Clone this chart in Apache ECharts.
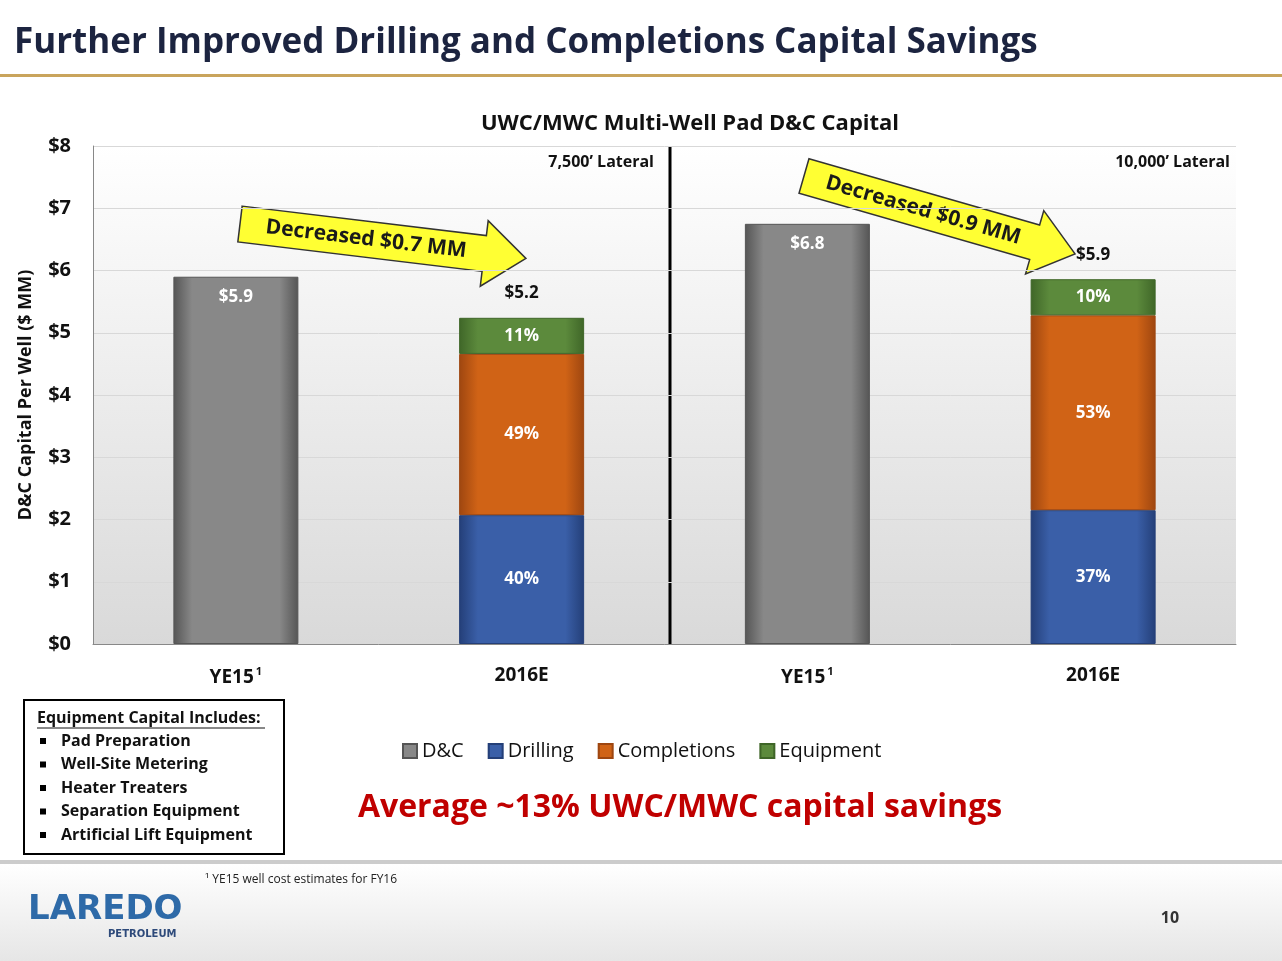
<!DOCTYPE html>
<html><head><meta charset="utf-8">
<script src="https://cdn.jsdelivr.net/npm/echarts@6/dist/echarts.min.js"></script>
<style>html,body{margin:0;padding:0;background:#fff}#main{width:1282px;height:961px}</style>
</head><body><div id="main"></div>
<script>
var categories = ['YE15', '2016E', 'YE15 ', '2016E '];
var dcValues = [5.9, null, 6.75, null];
var drillingValues = [null, 2.07, null, 2.15];
var completionValues = [null, 2.59, null, 3.13];
var equipmentValues = [null, 0.58, null, 0.58];
var dcLabels = ['$5.9', '', '$6.8', ''];
var drillingPct = ['', '40%', '', '37%'];
var completionPct = ['', '49%', '', '53%'];
var equipmentPct = ['', '11%', '', '10%'];
var totalLabels = ['', '$5.2', '', '$5.9'];
var yTicks = ['$0', '$1', '$2', '$3', '$4', '$5', '$6', '$7', '$8'];
var equipmentItems = ['Pad Preparation', 'Well-Site Metering', 'Heater Treaters', 'Separation Equipment', 'Artificial Lift Equipment'];

var font = 'Open Sans';
var myChart = echarts.init(document.getElementById('main'));

function grad(light, dark) {
  return new echarts.graphic.LinearGradient(0, 0, 1, 0, [
    {offset: 0, color: dark}, {offset: 0.15, color: light}, {offset: 0.85, color: light}, {offset: 1, color: dark}
  ]);
}
function pctLabel(arr) {
  return {show: true, position: 'inside', color: '#fff', fontWeight: 'bold', fontSize: 17, fontFamily: font,
    formatter: function (p) { return arr[p.dataIndex]; }};
}
function arrow(x, y, rot, len, txt) {
  var h = 36, hh = 66, hl = 42;
  return {type: 'group', x: x, y: y, rotation: rot, children: [
    {type: 'polygon', shape: {points: [[0, -h/2], [len-hl, -h/2], [len-hl, -hh/2], [len, 0], [len-hl, hh/2], [len-hl, h/2], [0, h/2]]},
      style: {fill: '#ffff33', stroke: '#333', lineWidth: 1.5}},
    {type: 'text', x: (len-hl)/2 + 4, y: 0, style: {text: txt, fill: '#1a1a1a', font: 'bold 21px "Open Sans"', align: 'center', verticalAlign: 'middle'}}
  ]};
}

var listChildren = [];
equipmentItems.forEach(function (t, i) {
  listChildren.push({type: 'rect', shape: {x: 40, y: 738 + i*23.5, width: 6, height: 6}, style: {fill: '#000'}});
  listChildren.push({type: 'text', x: 61, y: 741 + i*23.5, style: {text: t, font: 'bold 16px "Open Sans"', fill: '#111', verticalAlign: 'middle'}});
});

var option = {
  animation: false,
  backgroundColor: '#fff',
  title: {text: 'UWC/MWC Multi-Well Pad D&C Capital', left: 685, top: 108, textAlign: 'center',
    textStyle: {fontFamily: font, fontSize: 22, fontWeight: 'bold', color: '#111'}},
  legend: {top: 736, left: 397, icon: 'rect', itemWidth: 14, itemHeight: 14, itemGap: 24,
    data: ['D&C', 'Drilling', 'Completions', 'Equipment'],
    textStyle: {fontFamily: font, fontSize: 20, color: '#111'}},
  grid: {left: 93, right: 46, top: 146, bottom: 317},
  xAxis: {type: 'category', data: categories,
    axisLine: {lineStyle: {color: '#888'}}, axisTick: {show: false},
    axisLabel: {margin: 22, fontFamily: font, fontSize: 19, fontWeight: 'bold', color: '#111',
      formatter: function (v) { return v.indexOf('YE15') === 0 ? 'YE15{s|1}' : v.trim(); },
      rich: {s: {fontSize: 11, verticalAlign: 'top', padding: [0, 0, 12, 2], fontWeight: 'bold'}}}},
  yAxis: {type: 'value', min: 0, max: 8, interval: 1,
    name: 'D&C Capital Per Well ($ MM)', nameLocation: 'middle', nameGap: 58,
    nameTextStyle: {fontFamily: font, fontSize: 18, fontWeight: 'bold', color: '#111'},
    axisLine: {show: true, lineStyle: {color: '#888'}},
    axisLabel: {fontFamily: font, fontSize: 20, fontWeight: 'bold', color: '#111', margin: 22,
      formatter: function (v) { return yTicks[v]; }},
    splitLine: {lineStyle: {color: '#d8d8d8'}}},
  series: [
    {name: 'D&C', type: 'bar', stack: 's', barWidth: 125, data: dcValues,
      itemStyle: {color: grad('#888', '#555'), borderColor: '#555', borderWidth: 1},
      label: {show: true, position: 'insideTop', distance: 12, color: '#fff', fontWeight: 'bold', fontSize: 17, fontFamily: font,
        formatter: function (p) { return dcLabels[p.dataIndex]; }}},
    {name: 'Drilling', type: 'bar', stack: 's', data: drillingValues,
      itemStyle: {color: grad('#3a5fa8', '#243f78'), borderColor: '#243f78', borderWidth: 1}, label: pctLabel(drillingPct)},
    {name: 'Completions', type: 'bar', stack: 's', data: completionValues,
      itemStyle: {color: grad('#d06316', '#9e4610'), borderColor: '#9e4610', borderWidth: 1}, label: pctLabel(completionPct)},
    {name: 'Equipment', type: 'bar', stack: 's', data: equipmentValues,
      itemStyle: {color: grad('#5c8a3c', '#3f6628'), borderColor: '#3f6628', borderWidth: 1}, label: pctLabel(equipmentPct)},
    {name: 'total', type: 'bar', stack: 's', data: [null, 0.0001, null, 0.0001], itemStyle: {color: 'transparent'},
      label: {show: true, position: 'top', distance: 16, color: '#111', fontWeight: 'bold', fontSize: 17, fontFamily: font,
        formatter: function (p) { return totalLabels[p.dataIndex]; }}}
  ],
  graphic: [
    {type: 'text', left: 14, top: 26, style: {text: 'Further Improved Drilling and Completions Capital Savings', font: 'bold 35px "Open Sans"', fill: '#1c2440'}},
    {type: 'rect', shape: {x: 0, y: 74, width: 1282, height: 3}, style: {fill: '#c9a45c'}},
    {type: 'rect', z: -1, shape: {x: 93, y: 146, width: 1143, height: 498},
      style: {fill: new echarts.graphic.LinearGradient(0, 0, 0, 1, [{offset: 0, color: '#ffffff'}, {offset: 1, color: '#d9d9d9'}])}},
    {type: 'line', shape: {x1: 670, y1: 146, x2: 670, y2: 644}, style: {stroke: '#000', lineWidth: 3}},
    {type: 'text', x: 654, y: 162, style: {text: '7,500\u2019 Lateral', font: 'bold 16px "Open Sans"', fill: '#111', align: 'right', verticalAlign: 'middle'}},
    {type: 'text', x: 1230, y: 162, style: {text: '10,000\u2019 Lateral', font: 'bold 16px "Open Sans"', fill: '#111', align: 'right', verticalAlign: 'middle'}},
    arrow(240, 224, -0.12, 288, 'Decreased $0.7 MM'),
    arrow(804, 176, -0.28, 282, 'Decreased $0.9 MM'),
    {type: 'rect', shape: {x: 24, y: 700, width: 260, height: 154}, style: {fill: '#fff', stroke: '#000', lineWidth: 2}},
    {type: 'text', x: 37, y: 718, style: {text: 'Equipment Capital Includes:', font: 'bold 16px "Open Sans"', fill: '#111', verticalAlign: 'middle'}},
    {type: 'line', shape: {x1: 37, y1: 728, x2: 265, y2: 728}, style: {stroke: '#111', lineWidth: 1}},
    {type: 'group', children: listChildren},
    {type: 'text', x: 680, y: 808, style: {text: 'Average ~13% UWC/MWC capital savings', font: 'bold 32px "Open Sans"', fill: '#c00000', align: 'center', verticalAlign: 'middle'}},
    {type: 'rect', shape: {x: 0, y: 860, width: 1282, height: 4}, style: {fill: '#ccc'}},
    {type: 'rect', z: -2, shape: {x: 0, y: 864, width: 1282, height: 97},
      style: {fill: new echarts.graphic.LinearGradient(0, 0, 0, 1, [{offset: 0, color: '#ffffff'}, {offset: 1, color: '#e6e6e6'}])}},
    {type: 'text', x: 205, y: 880, style: {text: '\u00b9 YE15 well cost estimates for FY16', font: '12px "Open Sans"', fill: '#222', verticalAlign: 'middle'}},
    {type: 'text', x: 28, y: 910, style: {text: 'LAREDO', font: 'bold 34px "DejaVu Sans"', fill: '#2e6aa8', verticalAlign: 'middle'}},
    {type: 'text', x: 108, y: 934, style: {text: 'PETROLEUM', font: 'bold 10px "DejaVu Sans"', fill: '#2e4a7a', verticalAlign: 'middle'}},
    {type: 'text', x: 1170, y: 918, style: {text: '10', font: 'bold 16px "Open Sans"', fill: '#333', align: 'center', verticalAlign: 'middle'}}
  ]
};
myChart.setOption(option);
window.onresize = function () { myChart.resize(); };
</script></body></html>
